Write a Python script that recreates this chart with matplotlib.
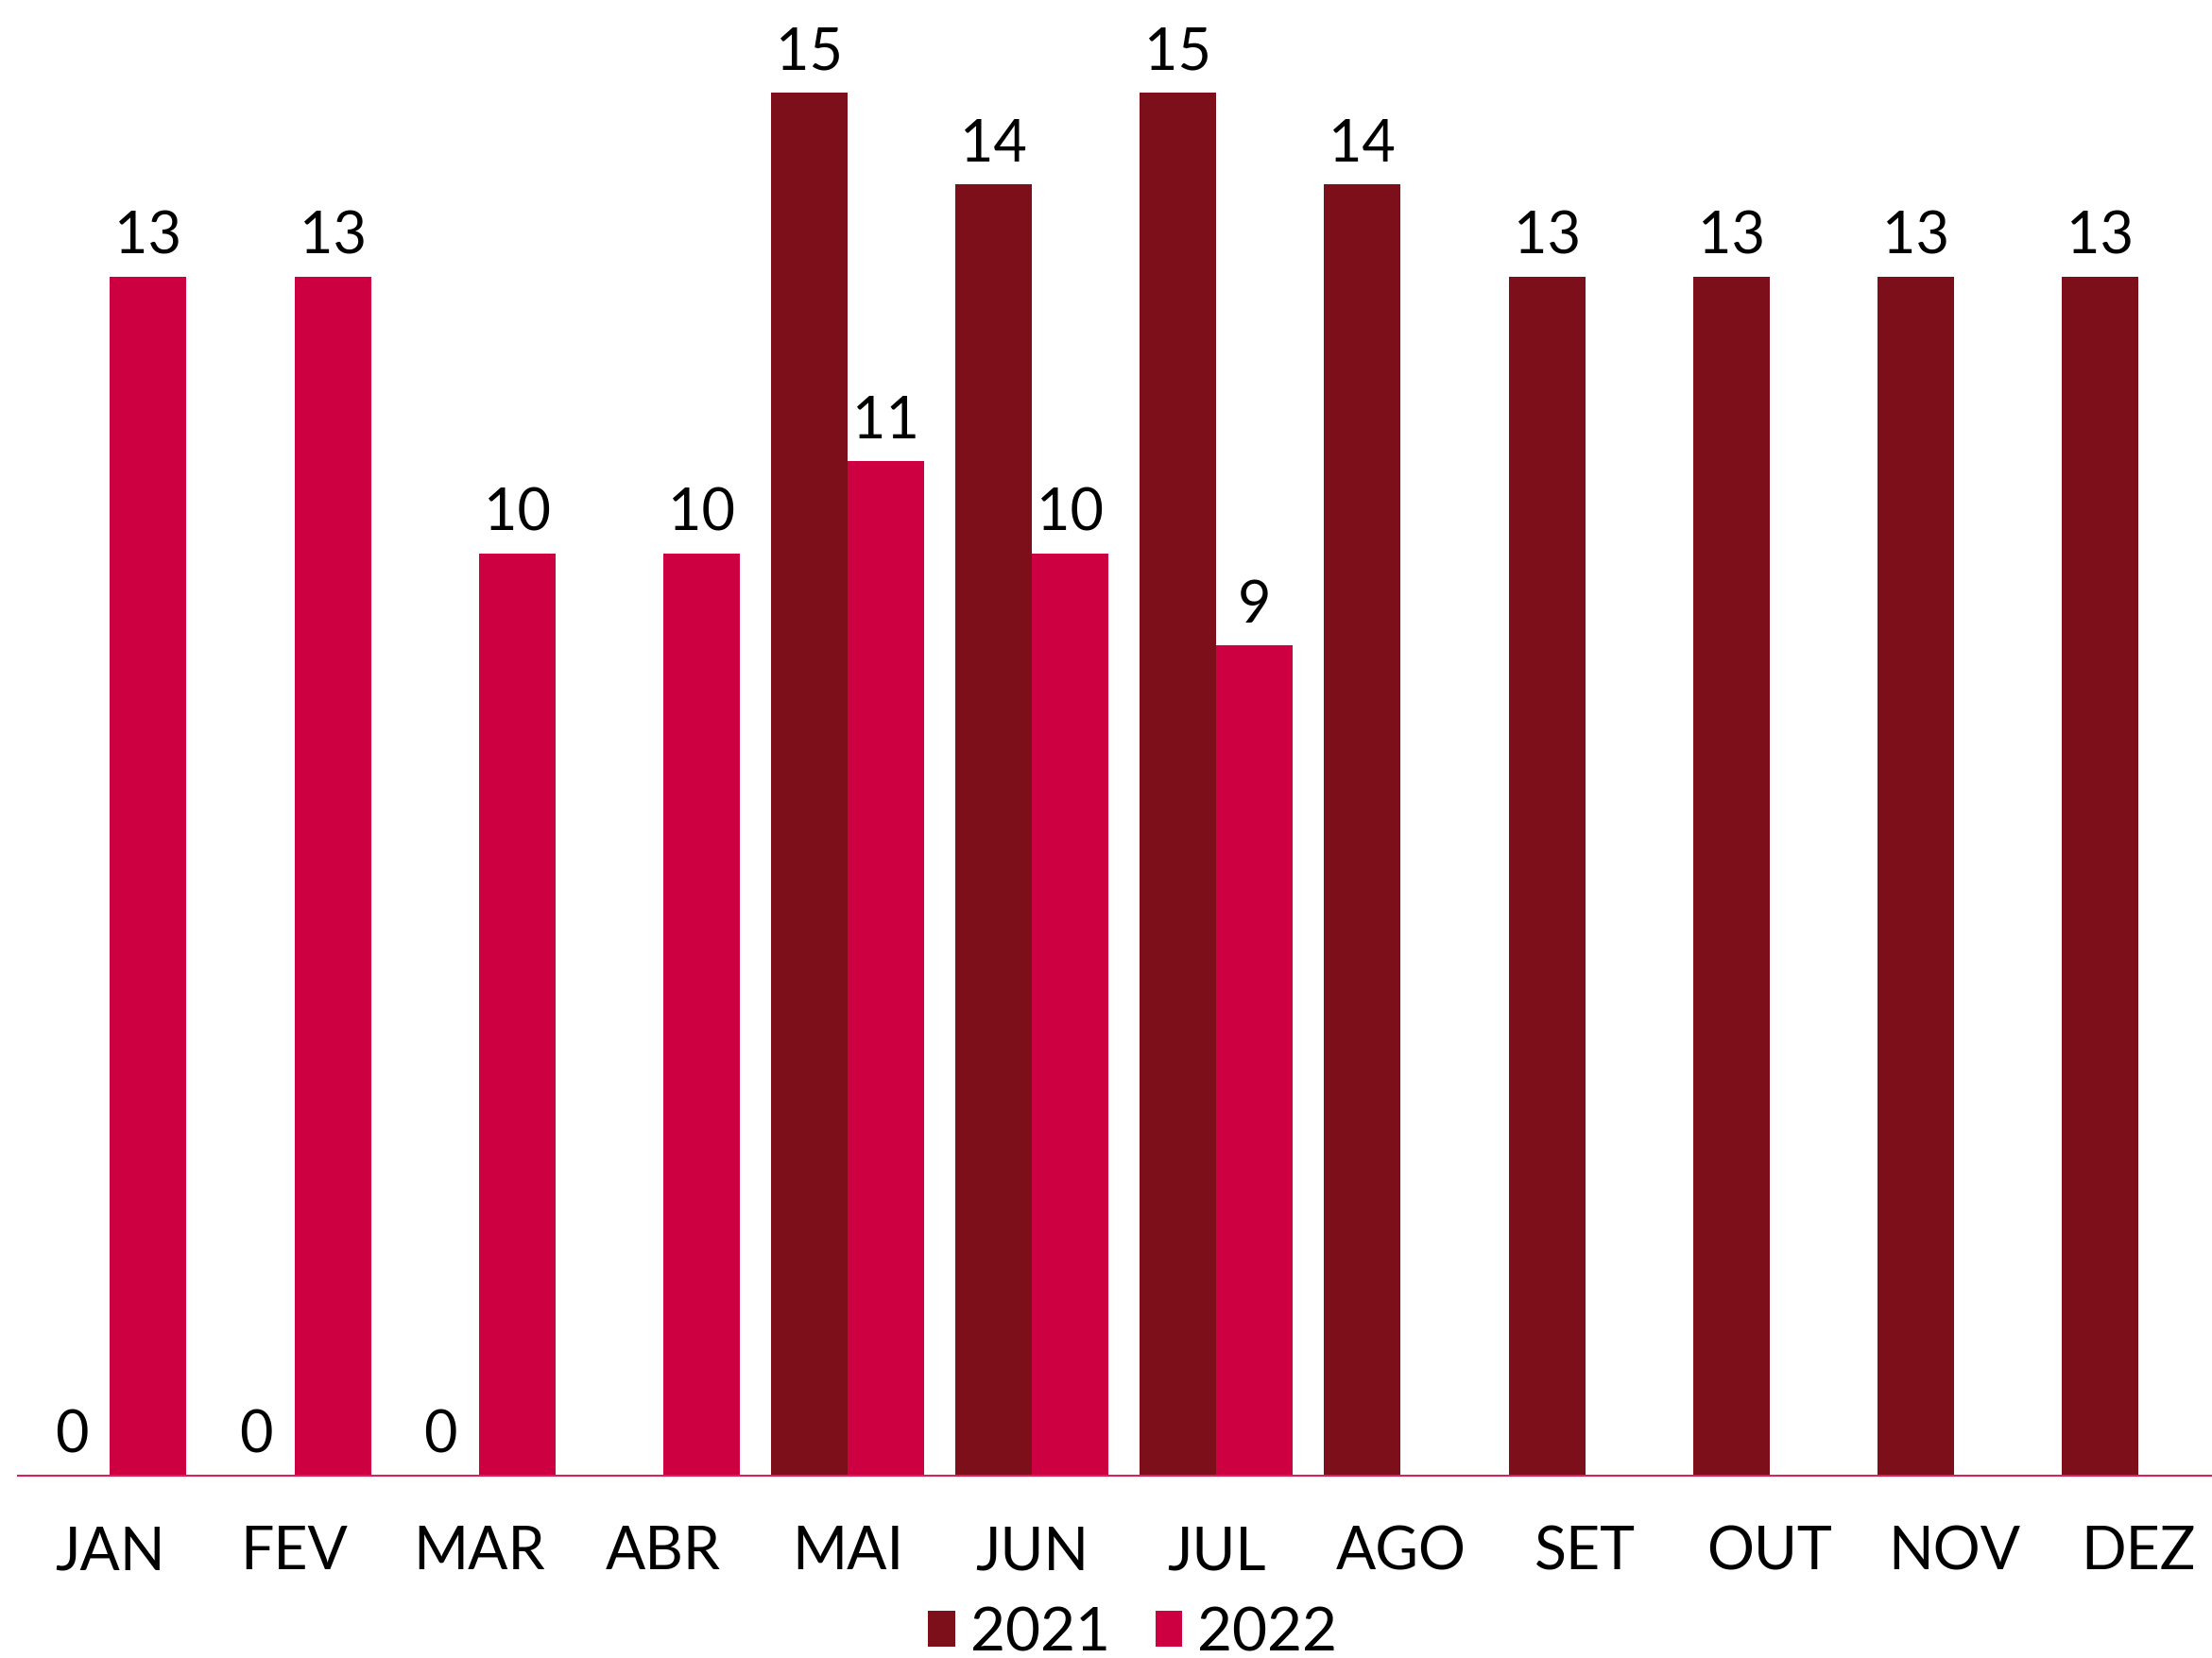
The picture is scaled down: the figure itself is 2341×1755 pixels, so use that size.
import numpy as np
import matplotlib.pyplot as plt
from matplotlib.patches import Patch

months = ["JAN", "FEV", "MAR", "ABR", "MAI", "JUN", "JUL", "AGO", "SET", "OUT", "NOV", "DEZ"]
vals_2021 = [0, 0, 0, None, 15, 14, 15, 14, 13, 13, 13, 13]
vals_2022 = [13, 13, 10, 10, 11, 10, 9, None, None, None, None, None]
series_names = ["2021", "2022"]

color_2021 = "#7D0F1B"
color_2022 = "#CD0042"

plt.rcParams['font.family'] = ['Lato', 'DejaVu Sans']

fig = plt.figure(figsize=(23.41, 17.56), dpi=100)
ax = fig.add_axes([0, 193 / 1756, 1, 1563 / 1756])

x = np.arange(len(months))
w = 0.415

def to_arr(v):
    return np.array([np.nan if a is None else a for a in v], dtype=float)

y21 = to_arr(vals_2021)
y22 = to_arr(vals_2022)

ax.bar(x - w / 2, np.nan_to_num(y21), w, color=color_2021, linewidth=0)
ax.bar(x + w / 2, np.nan_to_num(y22), w, color=color_2022, linewidth=0)

# value labels (skip missing values)
for xs, ys in [(x - w / 2, y21), (x + w / 2, y22)]:
    for xi, yi in zip(xs, ys):
        if np.isnan(yi):
            continue
        ax.annotate(f"{int(yi)}", (xi, yi), xytext=(0, 18), textcoords="offset points",
                    ha="center", va="baseline", fontsize=44, color="black")

ax.set_xlim(-0.597, 11.40)
ax.set_ylim(0, 16.01)

for s in ["top", "left", "right"]:
    ax.spines[s].set_visible(False)
ax.spines["bottom"].set_color("#D3245A")
ax.spines["bottom"].set_linewidth(1.5)
ax.spines["bottom"].set_bounds(-0.5, 11.5)

ax.set_yticks([])
ax.set_xticks(x)
ax.set_xticklabels(months, fontsize=45)
ax.tick_params(axis="x", length=0, pad=37)

handles = [Patch(facecolor=color_2021), Patch(facecolor=color_2022)]
fig.legend(handles, series_names, loc="lower center", bbox_to_anchor=(0.512, -0.016),
           ncol=2, frameon=False, fontsize=46, handlelength=0.45, handleheight=0.55,
           handletextpad=0.25, columnspacing=0.75, borderaxespad=0)

fig.savefig("out.png", dpi=100)
